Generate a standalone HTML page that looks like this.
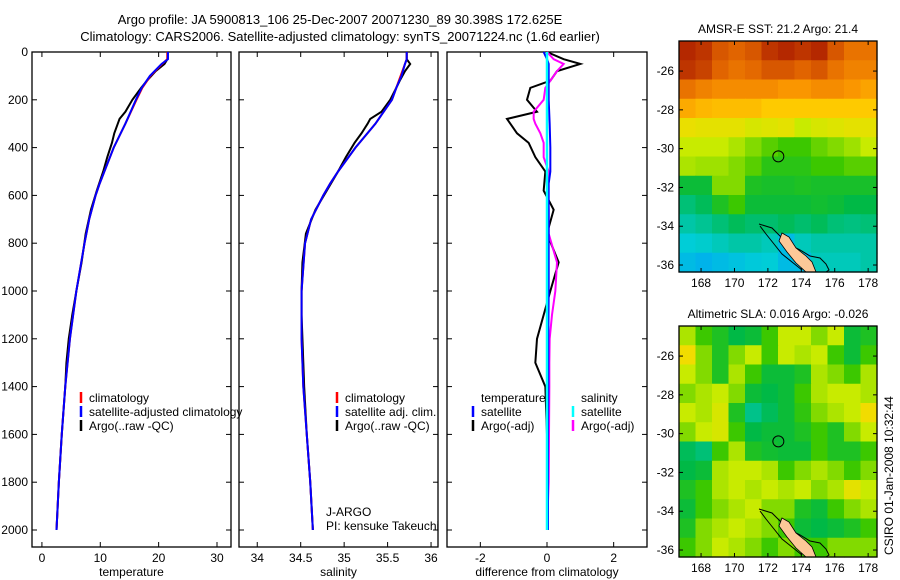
<!DOCTYPE html>
<html><head><meta charset="utf-8">
<style>
html,body{margin:0;padding:0;background:#fff;}
svg{display:block;font-family:"Liberation Sans",sans-serif;}
text{font-size:12px;fill:#000;}
</style></head>
<body>
<svg id="fig" width="900" height="580" viewBox="0 0 900 580">
<text x="340" y="24" text-anchor="middle" style="font-size:13px">Argo profile: JA 5900813_106 25-Dec-2007 20071230_89 30.398S 172.625E</text>
<text x="340" y="41" text-anchor="middle" style="font-size:13px">Climatology: CARS2006. Satellite-adjusted climatology: synTS_20071224.nc (1.6d earlier)</text>
<g id="g"></g>
</svg>
<script>
// ---- data ----
const depthClim=[0,30,50,100,150,200,300,400,500,550,600,700,800,1000,1200,1400,1600,1800,2000];
const tempClim=[21.5,21.5,20.6,18.6,17.2,16.2,14.3,12.3,10.7,9.9,9.2,8.1,7.3,5.9,4.8,4.0,3.4,2.9,2.5];
const tempSat=[21.6,21.6,20.5,18.5,17.1,16.1,14.3,12.3,10.7,9.9,9.2,8.1,7.3,5.9,4.8,4.0,3.4,2.9,2.5];
const depthArgo=[0,30,50,80,120,150,200,250,280,300,340,380,440,500,580,660,760,880,1000,1100,1200,1300,1400,1600,1800,2000];
const tempArgo=[21.5,21.5,21.0,19.5,18.0,17.0,15.5,14.3,13.3,13.0,12.4,12.0,11.2,10.5,9.4,8.4,7.5,6.8,5.9,5.2,4.6,4.2,4.0,3.4,2.9,2.5];
const salClim=[35.72,35.72,35.7,35.65,35.6,35.55,35.36,35.13,34.93,34.84,34.76,34.62,34.55,34.51,34.51,34.53,34.57,34.61,34.64];
const salSat=[35.72,35.72,35.7,35.66,35.6,35.55,35.36,35.13,34.93,34.84,34.76,34.62,34.55,34.51,34.51,34.53,34.57,34.61,34.64];
const salArgo=[35.72,35.72,35.76,35.7,35.64,35.6,35.53,35.43,35.3,35.27,35.2,35.12,35.02,34.93,34.8,34.67,34.56,34.52,34.51,34.51,34.52,34.53,34.54,34.57,34.61,34.64];
const dTempArgo=[0,0.5,1.0,0.3,0.1,-0.5,-0.6,-0.3,-1.2,-1.1,-0.9,-0.55,-0.35,-0.05,-0.1,0.2,0.0,0.35,0.1,-0.1,-0.3,-0.35,-0.05,0.0,0.0,0.0];
const dSalArgo=[0,0.2,0.5,0.3,0.1,-0.05,-0.1,-0.4,-0.4,-0.35,-0.2,-0.1,-0.1,0.05,0.02,0.05,0.05,0.3,0.25,0.15,0.08,0.07,0.07,0.06,0.05,0.0];
const dTempSat=[-0.1,0.0,0.05,0.05,0.05,0.05,0.08,0.1,0.1,0.05,0.05,0.05,0.05,0.05,0.04,0.04,0.03,0.03,0.03];
const dSalSat=[0,0,0,0,0,0,0,0,0,0,0,0,0,0,0,0,0,0,0];
const tTicks=[0,10,20,30], sTicks=[34,34.5,35,35.5,36], dTicks=[-2,0,2], zTicks=[0,200,400,600,800,1000,1200,1400,1600,1800,2000];
const lonTicks=[168,170,172,174,176,178], latTicks=[-26,-28,-30,-32,-34,-36];
const sstGrid=[
[.97,.95,.9,.88,.9,.95,.97,.95,.97,.9,.85,.85],
[.95,.93,.88,.85,.87,.9,.9,.88,.9,.85,.82,.82],
[.85,.82,.8,.8,.8,.8,.78,.78,.8,.8,.78,.76],
[.75,.73,.72,.72,.72,.7,.7,.7,.7,.7,.7,.7],
[.65,.64,.64,.64,.62,.63,.64,.6,.62,.63,.64,.64],
[.6,.6,.6,.58,.55,.52,.5,.5,.53,.55,.57,.6],
[.58,.57,.57,.55,.52,.47,.47,.47,.5,.5,.52,.52],
[.42,.42,.55,.55,.45,.44,.44,.45,.44,.44,.44,.44],
[.35,.38,.45,.5,.42,.42,.42,.42,.43,.42,.4,.4],
[.3,.32,.35,.38,.36,.36,.38,.36,.38,.35,.34,.35],
[.25,.26,.28,.3,.3,.28,.2,.28,.3,.3,.3,.3],
[.2,.18,.2,.22,.24,.25,.2,.2,.28,.28,.28,.3]];
const slaGrid=[
[.58,.5,.45,.4,.42,.5,.6,.6,.55,.6,.42,.45],
[.66,.55,.45,.55,.6,.5,.6,.58,.6,.5,.42,.5],
[.6,.55,.45,.58,.5,.42,.42,.45,.58,.55,.5,.58],
[.55,.58,.6,.55,.42,.4,.42,.5,.58,.6,.6,.58],
[.6,.58,.62,.45,.33,.38,.42,.48,.55,.58,.6,.66],
[.55,.6,.62,.5,.4,.42,.42,.45,.5,.45,.55,.6],
[.38,.35,.5,.58,.45,.43,.42,.42,.5,.45,.45,.5],
[.4,.42,.58,.6,.6,.58,.5,.55,.58,.55,.5,.55],
[.45,.5,.58,.6,.58,.6,.58,.6,.55,.58,.64,.6],
[.42,.5,.55,.58,.6,.55,.55,.45,.42,.5,.55,.58],
[.45,.55,.58,.6,.58,.55,.5,.42,.4,.42,.45,.5],
[.5,.55,.6,.58,.55,.5,.55,.5,.5,.55,.55,.55]];
const argoLon=172.625, argoLat=-30.398;

// ---- drawing ----
const NS='http://www.w3.org/2000/svg', G=document.getElementById('g');
function el(tag,a,p){const e=document.createElementNS(NS,tag);for(const k in a)e.setAttribute(k,a[k]);(p||G).appendChild(e);return e;}
const PT=52,PB=547, yD=d=>52+d*0.239;
function panel(x0,x1,xmin,xmax,ticks,label,name,leftLabels){
  const sx=v=>x0+(v-xmin)/(xmax-xmin)*(x1-x0);
  const r=el('rect',{x:x0,y:PT,width:x1-x0,height:PB-PT,fill:'none',stroke:'#000','stroke-width':1.3});
  
  
  ticks.forEach(t=>{const x=sx(t);
    el('line',{x1:x,x2:x,y1:PB,y2:PB-5,stroke:'#000'});el('line',{x1:x,x2:x,y1:PT,y2:PT+5,stroke:'#000'});
    const tx=el('text',{x:x,y:PB+15,'text-anchor':'middle'});tx.textContent=t;
    
    });
  zTicks.forEach(z=>{const y=yD(z);
    el('line',{x1:x0,x2:x0+5,y1:y,y2:y,stroke:'#000'});el('line',{x1:x1,x2:x1-5,y1:y,y2:y,stroke:'#000'});
    if(leftLabels){const tx=el('text',{x:x0-4,y:y+4,'text-anchor':'end'});tx.textContent=z;
      
      }});
  const lt=el('text',{x:(x0+x1)/2,y:PB+29,'text-anchor':'middle'});lt.textContent=label;
  
  
  return sx;
}
function line(sx,vals,deps,color,w,name){
  const p=el('polyline',{points:vals.map((v,i)=>sx(v)+','+yD(deps[i])).join(' '),fill:'none',stroke:color,'stroke-width':w});
  
  
}
function legend(x,y,items,name){
  items.forEach((it,i)=>{const yy=y+i*14;
    if(it[1])el('line',{x1:x,x2:x,y1:yy-10,y2:yy+1,stroke:it[1],'stroke-width':2.5});
    const t=el('text',{x:x+8,y:yy});t.textContent=it[0];
    
    });
}
const sx1=panel(32,231,-1.7,32.4,tTicks,'temperature','temperature-panel',true);
line(sx1,tempArgo,depthArgo,'#000',2,'temperature-argo-line');
line(sx1,tempClim,depthClim,'#f00',2,'temperature-climatology-line');
line(sx1,tempSat,depthClim,'#00f',2,'temperature-satellite-line');
legend(81,402,[['climatology','#f00'],['satellite-adjusted climatology','#00f'],['Argo(..raw -QC)','#000']],'temperature-legend');
const sx2=panel(239,438,33.79,36.08,sTicks,'salinity','salinity-panel',false);
line(sx2,salArgo,depthArgo,'#000',2,'salinity-argo-line');
line(sx2,salClim,depthClim,'#f00',2,'salinity-climatology-line');
line(sx2,salSat,depthClim,'#00f',2,'salinity-satellite-line');
legend(337,402,[['climatology','#f00'],['satellite adj. clim.','#00f'],['Argo(..raw -QC)','#000']],'salinity-legend');
legend(318,516,[['J-ARGO',null],['PI: kensuke Takeuchi',null]],'pi-note');
const sx3=panel(447,647,-3.0,3.0,dTicks,'difference from climatology','difference-panel',false);
line(sx3,dTempArgo,depthArgo,'#000',2,'diff-temperature-argo-line');
line(sx3,dSalArgo,depthArgo,'#f0f',2,'diff-salinity-argo-line');
line(sx3,dTempSat,depthClim,'#00f',2,'diff-temperature-satellite-line');
line(sx3,dSalSat,depthClim,'#0ff',2.5,'diff-salinity-satellite-line');
legend(473,402,[['temperature',null],['satellite','#00f'],['Argo(-adj)','#000']],'diff-temp-legend');
legend(573,402,[['salinity',null],['satellite','#0ff'],['Argo(-adj)','#f0f']],'diff-sal-legend');

// colormap
const stops=[[0.1,[0,150,255]],[0.25,[0,205,215]],[0.4,[0,185,70]],[0.5,[60,200,0]],[0.6,[200,235,0]],[0.68,[255,215,0]],[0.78,[250,150,0]],[0.88,[225,100,0]],[1,[165,20,0]]];
function cmap(v){if(v<=stops[0][0])return 'rgb('+stops[0][1]+')';
  for(let i=1;i<stops.length;i++)if(v<=stops[i][0]){const a=stops[i-1],b=stops[i],t=(v-a[0])/(b[0]-a[0]);
    return 'rgb('+a[1].map((c,k)=>Math.round(c+(b[1][k]-c)*t)).join(',')+')';}
  return 'rgb('+stops[stops.length-1][1]+')';}
function map(y0,grid,title,name){
  const x0=679,x1=877,y1=y0+231, lonMin=166.68,lonMax=178.53,latTop=-24.45,latBot=-36.36;
  const sx=l=>x0+(l-lonMin)/(lonMax-lonMin)*(x1-x0), sy=l=>y0+(l-latTop)/(latBot-latTop)*(y1-y0);
  const g=el('g',{});
  const nr=grid.length,nc=grid[0].length,cw=(x1-x0)/nc,ch=(y1-y0)/nr;
  grid.forEach((row,r)=>row.forEach((v,c)=>{
    const cell=el('rect',{x:x0+c*cw,y:y0+r*ch,width:cw+0.6,height:ch+0.6,fill:cmap(v)},g);
    
    }));
  const L=el('g',{transform:'translate(0,'+(y0-41)+')'},g);
  el('polyline',{points:'759,224 772,228 780,236 790,245 800,250 810,256 820,258 826,264 829,270 826,272',fill:'none',stroke:'#000','stroke-width':1},L);
  el('polyline',{points:'760,226 766,234 774,244 782,254 792,262 802,270',fill:'none',stroke:'#000','stroke-width':1},L);
  el('polygon',{points:'782,233 789,237 796,248 806,256 812,262 816,272 806,272 796,263 787,252 779,241',fill:'#fcc898',stroke:'#000','stroke-width':0.8},L);
  const mk=el('circle',{cx:sx(argoLon),cy:sy(argoLat),r:5.5,fill:'none',stroke:'#000'},g);
  
  
  el('rect',{x:x0,y:y0,width:x1-x0,height:y1-y0,fill:'none',stroke:'#000','stroke-width':1.3},g);
  lonTicks.forEach(l=>{const x=sx(l);el('line',{x1:x,x2:x,y1:y0,y2:y0+4,stroke:'#000'},g);el('line',{x1:x,x2:x,y1:y1,y2:y1-4,stroke:'#000'},g);
    const t=el('text',{x:x,y:y1+15,'text-anchor':'middle'},g);t.textContent=l;
    
    });
  latTicks.forEach(l=>{const y=sy(l);el('line',{x1:x0,x2:x0+4,y1:y,y2:y,stroke:'#000'},g);el('line',{x1:x1,x2:x1-4,y1:y,y2:y,stroke:'#000'},g);
    const t=el('text',{x:x0-5,y:y+4,'text-anchor':'end'},g);t.textContent=l;
    
    });
  const t=el('text',{x:(x0+x1)/2,y:y0-8,'text-anchor':'middle'},g);t.textContent=title;
  
  
}
map(41,sstGrid,'AMSR-E SST: 21.2 Argo: 21.4','sst-map');
map(326,slaGrid,'Altimetric SLA: 0.016 Argo: -0.026','sla-map');
const cs=el('text',{x:0,y:0,transform:'translate(893,555) rotate(-90)'});cs.textContent='CSIRO 01-Jan-2008 10:32:44';


</script>
</body></html>
